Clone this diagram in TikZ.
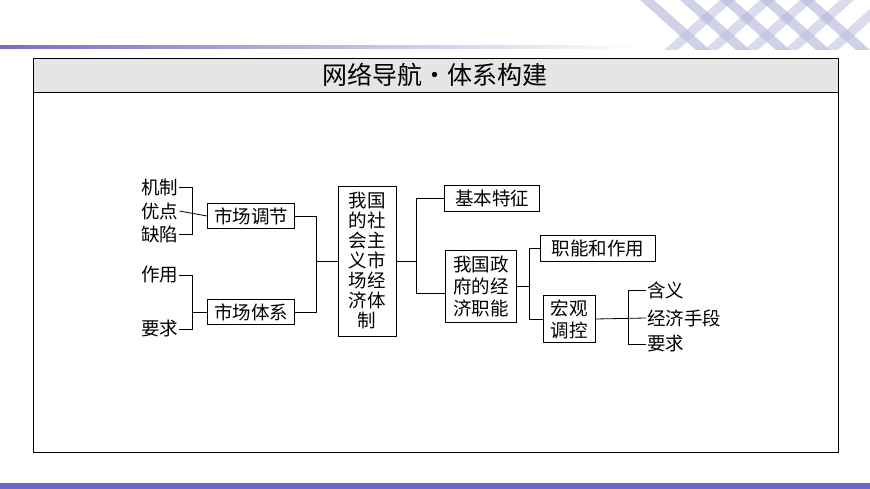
\documentclass[tikz,border=0pt]{standalone}
\usepackage{fontspec}
\setmainfont{Noto Sans CJK SC}
\begin{document}
\begin{tikzpicture}[x=1pt,y=-1pt,
  bx/.style={draw,thick,inner sep=2pt,font=\fontsize{18.5}{22}\selectfont,align=center},
  tx/.style={inner sep=1pt,font=\fontsize{18.5}{22}\selectfont},
  ln/.style={thick}]
\useasboundingbox (0,0) rectangle (870,489);
\fill[blue!45!gray!80] (0,483) rectangle (870,489);
\shade[left color=blue!40!gray!80,right color=white] (0,46) rectangle (640,49);
\foreach \a in {640,680,720,760,800}{
  \fill[blue!35!gray!45,opacity=0.6] (\a,0) -- (\a+14,0) -- (\a+70,50) -- (\a+56,50) -- cycle;
  \fill[blue!35!gray!35,opacity=0.6] (\a+80,0) -- (\a+94,0) -- (\a+38,50) -- (\a+24,50) -- cycle;}
\fill[white] (620,50) rectangle (870,57);
\draw[thick,fill=gray!20] (33,58) rectangle (838,92);
\draw[thick] (33,92) rectangle (838,452);
\node[font=\fontsize{25}{28}\selectfont] (title) at (435,75) {网络导航·体系构建};
% left
\node[tx,anchor=west] (a1) at (140,187) {机制};
\node[tx,anchor=west] (a2) at (140,211) {优点};
\node[tx,anchor=west] (a3) at (140,234) {缺陷};
\node[tx,anchor=west] (b1) at (140,275) {作用};
\node[tx,anchor=west] (b2) at (140,329) {要求};
\node[bx,minimum width=87pt,minimum height=25pt] (m1) at (251,216) {市场调节};
\node[bx,minimum width=87pt,minimum height=25pt] (m2) at (251,312) {市场体系};
\node[bx,minimum width=58pt,minimum height=150pt,inner sep=1pt,font=\fontsize{18.5}{20}\selectfont] (c) at (367,261) {我国\\的社\\会主\\义市\\场经\\济体\\制};
\node[bx,minimum width=95pt,minimum height=26pt] (j) at (492,198) {基本特征};
\node[bx,minimum width=71pt,minimum height=72pt,inner sep=1pt] (g) at (481,286) {我国政\\府的经\\济职能};
\node[bx,minimum width=115pt,minimum height=26pt] (z) at (598,248) {职能和作用};
\node[bx,minimum width=52pt,minimum height=47pt,inner sep=1pt] (h) at (569,319) {宏观\\调控};
\node[tx,anchor=west] (d1) at (646,290) {含义};
\node[tx,anchor=west] (d2) at (646,318) {经济手段};
\node[tx,anchor=west] (d3) at (646,344) {要求};
% connectors
\draw[ln] (a1.east) -- (192,187) |- (a3.east);
\draw[ln] (a2.east) -- (m1.west);
\draw[ln] (b1.east) -- (192,275) |- (b2.east);
\draw[ln] (192,312) -- (m2.west);
\draw[ln] (m1.east) -- (316,216) |- (m2.east);
\draw[ln] (316,261) -- (c.west);
\draw[ln] (c.east) -- (416,261);
\draw[ln] (j.west) -| (416,293) -- (g.west |- 0,293);
\draw[ln] (g.east) -- (529,286);
\draw[ln] (z.west) -| (529,319) -- (h.west);
\draw[ln] (h.east) -- (d2.west);
\draw[ln] (d1.west) -- (628,290) |- (d3.west);
\end{tikzpicture}
\end{document}
